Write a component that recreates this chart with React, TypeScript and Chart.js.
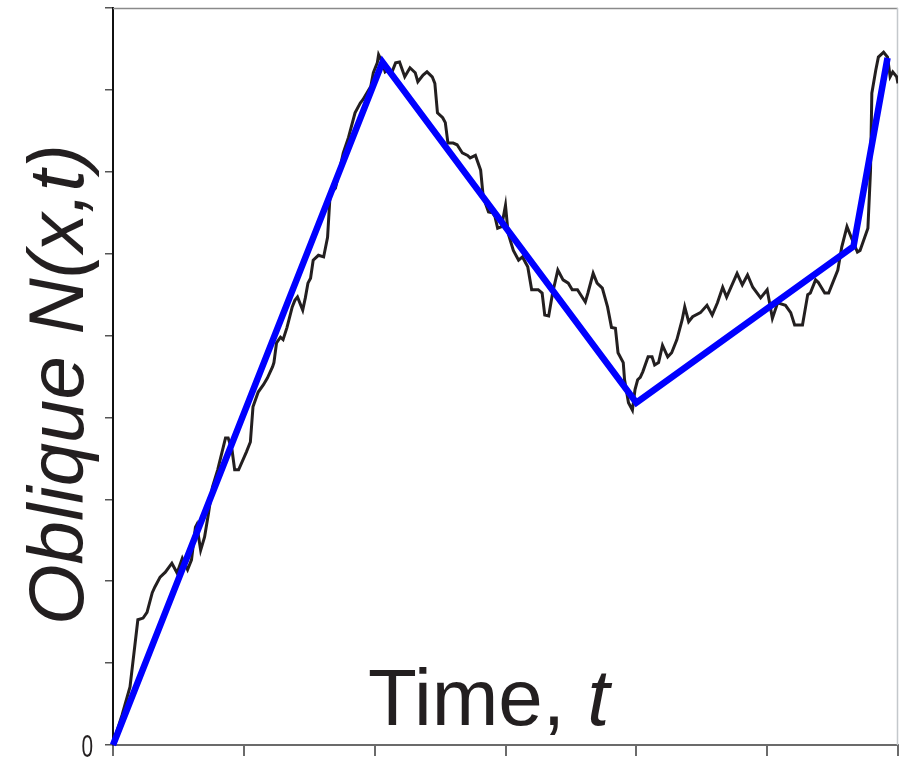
import React, { useEffect, useRef } from "react";
import { Chart, registerables } from "chart.js";

Chart.register(...registerables);

// Axis ranges / ticks (time units and N units)
const xTicks = [0, 1, 2, 3, 4, 5, 6];
const yTicks = [0, 1, 2, 3, 4, 5, 6, 7, 8, 9];
const yTickLabels = ["0", "", "", "", "", "", "", "", "", ""];

// Piecewise-linear oblique cumulative count (blue)
const trendT = [0, 2.06, 4.0, 5.66, 5.92];
const trendN = [0, 8.34, 4.18, 6.09, 8.39];

// Noisy measured cumulative count (black)
const noisyT = [
  0, 0.07, 0.13, 0.19, 0.23, 0.26, 0.30, 0.32, 0.36, 0.40,
  0.45, 0.49, 0.53, 0.57, 0.60, 0.63, 0.64, 0.67, 0.70, 0.73,
  0.76, 0.80, 0.86, 0.88, 0.91, 0.93, 0.96, 1.02, 1.05, 1.07,
  1.11, 1.15, 1.18, 1.22, 1.23, 1.25, 1.28, 1.30, 1.33, 1.37,
  1.39, 1.41, 1.45, 1.47, 1.49, 1.51, 1.53, 1.57, 1.61, 1.64,
  1.66, 1.70, 1.72, 1.76, 1.80, 1.85, 1.89, 1.91, 1.97, 1.99,
  2.02, 2.03, 2.06, 2.08, 2.10, 2.13, 2.16, 2.19, 2.23, 2.27,
  2.31, 2.33, 2.37, 2.40, 2.44, 2.46, 2.48, 2.52, 2.54, 2.56,
  2.60, 2.63, 2.67, 2.71, 2.73, 2.77, 2.81, 2.83, 2.87, 2.90,
  2.92, 2.94, 2.97, 3.00, 3.02, 3.06, 3.10, 3.13, 3.17, 3.20,
  3.25, 3.28, 3.30, 3.33, 3.36, 3.40, 3.44, 3.48, 3.51, 3.55,
  3.61, 3.63, 3.67, 3.70, 3.74, 3.78, 3.81, 3.84, 3.86, 3.90,
  3.91, 3.94, 3.97, 3.99, 4.01, 4.03, 4.05, 4.09, 4.12, 4.14,
  4.17, 4.20, 4.24, 4.27, 4.31, 4.35, 4.37, 4.40, 4.43, 4.49,
  4.54, 4.58, 4.62, 4.66, 4.69, 4.77, 4.81, 4.85, 4.89, 4.95,
  5.00, 5.04, 5.08, 5.14, 5.18, 5.21, 5.27, 5.31, 5.33, 5.37,
  5.39, 5.44, 5.47, 5.50, 5.54, 5.57, 5.61, 5.65, 5.69, 5.71,
  5.77, 5.79, 5.80, 5.83, 5.85, 5.89, 5.92, 5.94, 5.96, 5.99, 6.00,
];
const noisyN = [
  0.02, 0.37, 0.71, 1.53, 1.55, 1.62, 1.86, 1.93, 2.05, 2.11,
  2.22, 2.10, 2.28, 2.14, 2.26, 2.66, 2.69, 2.38, 2.54, 2.83,
  3.15, 3.36, 3.75, 3.75, 3.60, 3.36, 3.36, 3.58, 3.70, 4.13,
  4.31, 4.40, 4.48, 4.62, 4.67, 4.91, 4.98, 4.95, 5.10, 5.35,
  5.43, 5.47, 5.31, 5.46, 5.64, 5.70, 5.92, 5.98, 5.96, 6.20,
  6.74, 6.80, 6.94, 7.23, 7.42, 7.72, 7.84, 7.88, 8.04, 8.21,
  8.33, 8.43, 8.33, 8.22, 8.24, 8.21, 8.33, 8.34, 8.16, 8.27,
  8.21, 8.10, 8.18, 8.22, 8.16, 8.08, 7.72, 7.66, 7.60, 7.35,
  7.35, 7.33, 7.23, 7.20, 7.17, 7.20, 7.02, 6.69, 6.51, 6.50,
  6.45, 6.31, 6.33, 6.59, 6.25, 6.04, 5.92, 5.96, 5.84, 5.56,
  5.56, 5.52, 5.25, 5.24, 5.52, 5.80, 5.68, 5.64, 5.56, 5.56,
  5.41, 5.52, 5.76, 5.64, 5.58, 5.35, 5.10, 5.09, 4.79, 4.67,
  4.46, 4.18, 4.09, 4.34, 4.46, 4.49, 4.56, 4.74, 4.74, 4.64,
  4.67, 4.88, 4.74, 4.79, 4.95, 5.19, 5.35, 5.17, 5.23, 5.28,
  5.37, 5.25, 5.40, 5.59, 5.47, 5.76, 5.62, 5.74, 5.59, 5.46,
  5.56, 5.21, 5.40, 5.37, 5.28, 5.13, 5.13, 5.50, 5.52, 5.68,
  5.65, 5.52, 5.52, 5.64, 5.80, 6.08, 6.33, 6.17, 6.02, 6.04,
  6.31, 7.02, 7.96, 8.24, 8.40, 8.46, 8.40, 8.16, 8.22, 8.16, 8.08,
];

const yTitle = "Oblique N(x,t)";
const xTitleMain = "Time, ";
const xTitleVar = "t";

const TEXT = "#231f20";

const framePlugin = {
  id: "framePlugin",
  beforeDatasetsDraw(chart: any) {
    const { ctx, chartArea } = chart;
    ctx.save();
    ctx.strokeStyle = "#8a8a8a";
    ctx.lineWidth = 1.5;
    ctx.beginPath();
    ctx.moveTo(chartArea.left, chartArea.top + 0.5);
    ctx.lineTo(chartArea.right, chartArea.top + 0.5);
    ctx.stroke();
    ctx.strokeStyle = "#c4c8cc";
    ctx.lineWidth = 1.5;
    ctx.beginPath();
    ctx.moveTo(chartArea.right - 0.5, chartArea.top);
    ctx.lineTo(chartArea.right - 0.5, chartArea.bottom);
    ctx.stroke();
    ctx.restore();
  },
  afterDraw(chart: any) {
    const { ctx, chartArea, scales } = chart;
    ctx.save();
    ctx.fillStyle = TEXT;
    // y title (rotated)
    ctx.save();
    ctx.translate(83, (chartArea.top + chartArea.bottom) / 2 + 8);
    ctx.rotate(-Math.PI / 2);
    ctx.font = "italic 78px 'Liberation Sans', Arial, sans-serif";
    ctx.textAlign = "center";
    ctx.textBaseline = "alphabetic";
    ctx.fillText(yTitle, 0, 0);
    ctx.restore();
    // x title inside plot
    ctx.font = "80px 'Liberation Sans', Arial, sans-serif";
    ctx.textAlign = "left";
    ctx.textBaseline = "alphabetic";
    const w = ctx.measureText(xTitleMain).width;
    ctx.fillText(xTitleMain, 368, 725);
    ctx.font = "italic 80px 'Liberation Sans', Arial, sans-serif";
    ctx.fillText(xTitleVar, 368 + w, 725);
    // y tick labels
    const ys = scales.y;
    ctx.font = "32px 'Liberation Sans', Arial, sans-serif";
    ctx.textAlign = "right";
    ctx.textBaseline = "middle";
    yTicks.forEach((v, i) => {
      const lbl = yTickLabels[i];
      if (!lbl) return;
      const py = ys.getPixelForValue(v);
      ctx.save();
      ctx.translate(93, py + 3);
      ctx.scale(0.65, 1);
      ctx.fillText(lbl, 0, 0);
      ctx.restore();
    });
    ctx.restore();
  },
};

export default function App() {
  const ref = useRef<HTMLCanvasElement | null>(null);
  useEffect(() => {
    if (!ref.current) return;
    const chart = new Chart(ref.current, {
      type: "line",
      data: {
        datasets: [
          {
            label: "Oblique trend",
            data: trendT.map((t, i) => ({ x: t, y: trendN[i] })),
            borderColor: "#0000ff",
            borderWidth: 6.5,
            pointRadius: 0,
            tension: 0,
            borderJoinStyle: "miter",
            clip: false as any,
          },
          {
            label: "Oblique count",
            data: noisyT.map((t, i) => ({ x: t, y: noisyN[i] })),
            borderColor: "#231f20",
            borderWidth: 3,
            pointRadius: 0,
            tension: 0,
          },
        ],
      },
      options: {
        animation: false,
        responsive: false,
        maintainAspectRatio: false,
        layout: { padding: { top: 8, right: 4, left: 0, bottom: 0 } },
        plugins: { legend: { display: false }, tooltip: { enabled: false } },
        scales: {
          x: {
            type: "linear",
            min: 0,
            max: 6,
            afterBuildTicks: (s: any) => {
              s.ticks = xTicks.map((v) => ({ value: v }));
            },
            afterFit: (s: any) => {
              s.height = 17;
            },
            ticks: { display: false },
            grid: {
              drawOnChartArea: false,
              drawTicks: true,
              tickLength: 11,
              color: "#6b6b6b",
              lineWidth: 2,
            },
            border: { display: true, color: "#6b6b6b", width: 2 },
          },
          y: {
            type: "linear",
            min: 0,
            max: 9,
            afterBuildTicks: (s: any) => {
              s.ticks = yTicks.map((v) => ({ value: v }));
            },
            afterFit: (s: any) => {
              s.width = 113;
            },
            ticks: { display: false },
            grid: {
              drawOnChartArea: false,
              drawTicks: true,
              tickLength: 8,
              color: "#555555",
              lineWidth: 1.5,
            },
            border: { display: true, color: "#111111", width: 2 },
          },
        },
      },
      plugins: [framePlugin],
    } as any);
    return () => chart.destroy();
  }, []);
  return (
    <div
      style={{
        position: "fixed",
        left: 0,
        top: 0,
        width: 902,
        height: 762,
        background: "#ffffff",
      }}
    >
      <canvas ref={ref} width={902} height={762} style={{ display: "block" }} />
    </div>
  );
}
